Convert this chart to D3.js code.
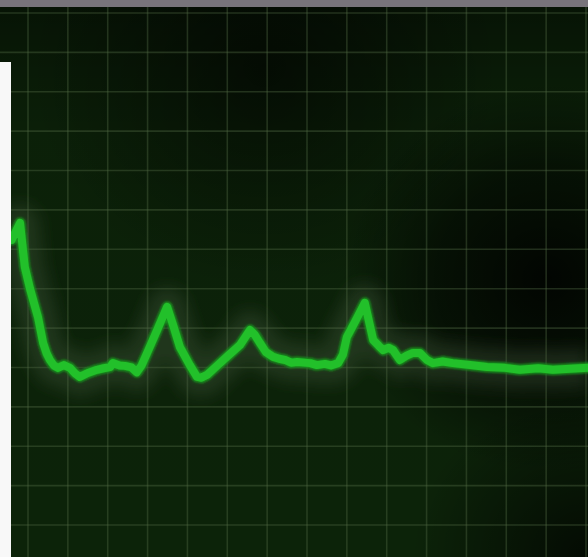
<!DOCTYPE html>
<html><head><meta charset="utf-8">
<script src="https://cdn.jsdelivr.net/npm/d3@7"></script>
<style>html,body{margin:0;padding:0;background:#0a1d08;overflow:hidden}svg{display:block}</style>
</head><body>
<script>
// trace samples: time (grid divisions) and amplitude (grid divisions)
const time = [-0.41,-0.2,-0.08,0.05,0.13,0.25,0.38,0.47,0.55,0.65,0.75,0.9,1.05,1.18,1.3,1.5,1.73,1.9,2.06,2.13,2.3,2.43,2.6,2.73,2.85,2.99,3.24,3.49,3.64,3.81,4.06,4.24,4.35,4.49,4.74,4.99,5.32,5.57,5.69,5.82,5.97,6.15,6.3,6.45,6.6,6.75,7.08,7.25,7.45,7.6,7.78,7.9,8.0,8.23,8.45,8.66,8.8,8.91,9.05,9.16,9.33,9.5,9.66,9.83,10.01,10.16,10.4,10.66,11.09,11.52,11.97,12.34,12.8,13.17,13.6,14.05];
const amp  = [7.24,7.67,6.55,6.0,5.71,5.28,4.62,4.35,4.19,4.05,3.99,4.06,3.99,3.85,3.76,3.86,3.94,3.98,4.01,4.11,4.05,4.04,4.0,3.88,4.05,4.37,4.95,5.54,5.08,4.52,4.06,3.76,3.74,3.81,4.04,4.27,4.57,4.95,4.83,4.62,4.39,4.27,4.22,4.19,4.12,4.14,4.11,4.06,4.09,4.05,4.11,4.32,4.77,5.21,5.64,4.7,4.55,4.44,4.5,4.44,4.19,4.3,4.37,4.37,4.19,4.11,4.15,4.11,4.06,4.01,3.99,3.94,3.98,3.94,3.97,3.99];
const xGrid = d3.range(0, 15);   // vertical grid divisions
const yGrid = d3.range(0, 14);   // horizontal grid divisions

const W = 588, H = 557;
const x = d3.scaleLinear().domain([0, 14]).range([28, 586]);
const y = d3.scaleLinear().domain([0, 13]).range([525, 13]);

const svg = d3.select("body").append("svg").attr("width", W).attr("height", H);
const defs = svg.append("defs");

const rg1 = defs.append("radialGradient").attr("id","vigR").attr("cx","0.93").attr("cy","0.5").attr("r","0.35");
rg1.append("stop").attr("offset","0").attr("stop-color","#000").attr("stop-opacity",0.85);
rg1.append("stop").attr("offset","0.55").attr("stop-color","#000").attr("stop-opacity",0.5);
rg1.append("stop").attr("offset","1").attr("stop-color","#000").attr("stop-opacity",0);
const rg2 = defs.append("radialGradient").attr("id","vigT").attr("cx","0.45").attr("cy","0.12").attr("r","0.4");
rg2.append("stop").attr("offset","0").attr("stop-color","#000").attr("stop-opacity",0.55);
rg2.append("stop").attr("offset","1").attr("stop-color","#000").attr("stop-opacity",0);
const lg = defs.append("linearGradient").attr("id","topDark").attr("x1",0).attr("x2",0).attr("y1",0).attr("y2",1);
lg.append("stop").attr("offset","0").attr("stop-color","#000").attr("stop-opacity",0.45);
lg.append("stop").attr("offset","0.25").attr("stop-color","#000").attr("stop-opacity",0.08);
lg.append("stop").attr("offset","1").attr("stop-color","#000").attr("stop-opacity",0);
const rg3 = defs.append("radialGradient").attr("id","vigBR").attr("cx","1").attr("cy","1").attr("r","0.3");
rg3.append("stop").attr("offset","0").attr("stop-color","#000").attr("stop-opacity",0.7);
rg3.append("stop").attr("offset","1").attr("stop-color","#000").attr("stop-opacity",0);

defs.append("filter").attr("id","blurBig").attr("x","-20%").attr("y","-50%").attr("width","140%").attr("height","200%")
  .append("feGaussianBlur").attr("stdDeviation", 8);
defs.append("filter").attr("id","blurSm").attr("x","-10%").attr("y","-30%").attr("width","120%").attr("height","160%")
  .append("feGaussianBlur").attr("stdDeviation", 0.8);

svg.append("rect").attr("width",W).attr("height",H).attr("fill","#0c2309");
svg.append("rect").attr("width",W).attr("height",H).attr("fill","url(#topDark)");
svg.append("rect").attr("width",W).attr("height",H).attr("fill","url(#vigT)");
svg.append("rect").attr("width",W).attr("height",H).attr("fill","url(#vigR)");
svg.append("rect").attr("width",W).attr("height",H).attr("fill","url(#vigBR)");

// grid
const g = svg.append("g").attr("stroke","#4f6a44").attr("stroke-opacity",0.4).attr("stroke-width",1.6);
g.selectAll("line.v").data(xGrid).join("line").attr("class","v")
  .attr("x1",d=>x(d)).attr("x2",d=>x(d)).attr("y1",7).attr("y2",H);
g.selectAll("line.h").data(yGrid).join("line").attr("class","h")
  .attr("x1",0).attr("x2",W).attr("y1",d=>y(d)).attr("y2",d=>y(d));

const pts = time.map((t,i)=>[t, amp[i]]);
const line = d3.line().x(d=>x(d[0])).y(d=>y(d[1])).curve(d3.curveLinear);

// halo
svg.append("path").attr("d", line(pts)).attr("fill","none")
  .attr("stroke","#4e6644").attr("stroke-opacity",0.3).attr("stroke-width",38)
  .attr("stroke-linejoin","round").attr("filter","url(#blurBig)");
// trace
svg.append("path").attr("d", line(pts)).attr("fill","none")
  .attr("stroke","#178f1c").attr("stroke-width",11)
  .attr("stroke-linejoin","round").attr("stroke-linecap","round").attr("filter","url(#blurSm)");
svg.append("path").attr("d", line(pts)).attr("fill","none")
  .attr("stroke","#22c02a").attr("stroke-width",8)
  .attr("stroke-linejoin","round").attr("stroke-linecap","round");

// frame elements
svg.append("rect").attr("x",0).attr("y",0).attr("width",W).attr("height",7).attr("fill","#78747b");
svg.append("rect").attr("x",0).attr("y",62).attr("width",11).attr("height",H-62).attr("fill","#f8f8f8");
</script>
</body></html>
